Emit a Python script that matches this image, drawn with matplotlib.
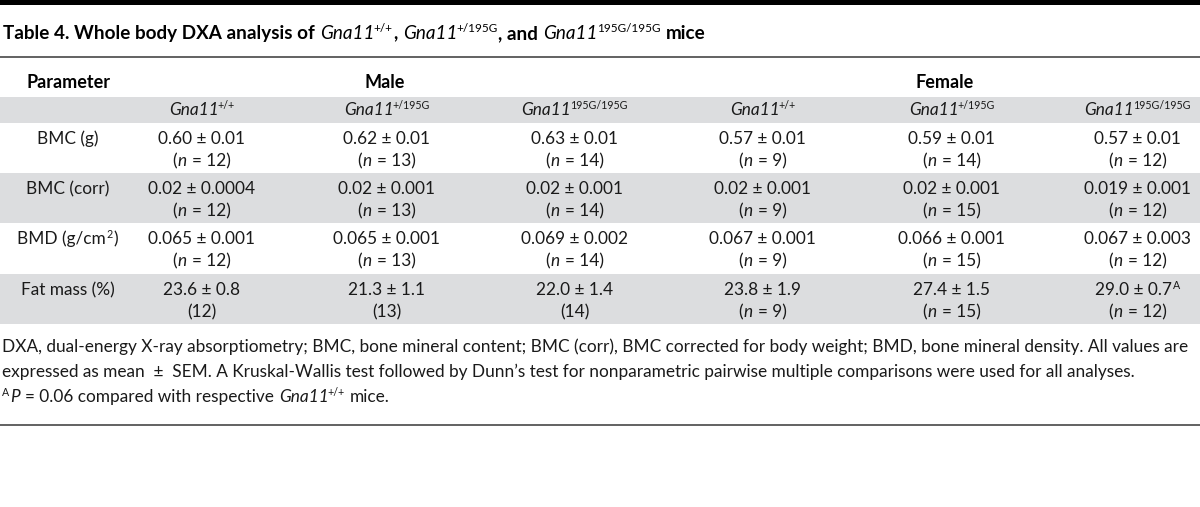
import matplotlib
matplotlib.use("Agg")
import matplotlib.pyplot as plt
from matplotlib.patches import Rectangle

plt.rcParams['font.family'] = ['Lato', 'DejaVu Sans']

# data
params = [[("BMC (g)", "n")],
          [("BMC (corr)", "n")],
          [("BMD (g/cm", "n"), ("2", "sup"), (")", "n")],
          [("Fat mass (%)", "n")]]
genos = ["+/+", "+/195G", "195G/195G", "+/+", "+/195G", "195G/195G"]
sexes = ["Male", "Female"]
means = [["0.60 ± 0.01", "0.62 ± 0.01", "0.63 ± 0.01", "0.57 ± 0.01", "0.59 ± 0.01", "0.57 ± 0.01"],
         ["0.02 ± 0.0004", "0.02 ± 0.001", "0.02 ± 0.001", "0.02 ± 0.001", "0.02 ± 0.001", "0.019 ± 0.001"],
         ["0.065 ± 0.001", "0.065 ± 0.001", "0.069 ± 0.002", "0.067 ± 0.001", "0.066 ± 0.001", "0.067 ± 0.003"],
         ["23.6 ± 0.8", "21.3 ± 1.1", "22.0 ± 1.4", "23.8 ± 1.9", "27.4 ± 1.5", "29.0 ± 0.7"]]
marks = [["", "", "", "", "", ""],
         ["", "", "", "", "", ""],
         ["", "", "", "", "", ""],
         ["", "", "", "", "", "A"]]
ns = [[12, 13, 14, 9, 14, 12],
      [12, 13, 14, 9, 15, 12],
      [12, 13, 14, 9, 15, 12],
      [12, 13, 14, 9, 15, 12]]
show_n = [[True] * 6, [True] * 6, [True] * 6, [False, False, False, True, True, True]]

title = [("Table 4. Whole body DXA analysis of ", "b"), ("Gna11", "i"), ("+/+", "sup"),
         (", ", "b"), ("Gna11", "i"), ("+/195G", "sup"), (", and ", "b"),
         ("Gna11", "i"), ("195G/195G", "sup"), (" mice", "b")]
notes = [[("DXA, dual-energy X-ray absorptiometry; BMC, bone mineral content; BMC (corr), BMC corrected for body weight; BMD, bone mineral density. All values are", "n")],
         [("expressed as mean  ±  SEM. A Kruskal-Wallis test followed by Dunn\u2019s test for nonparametric pairwise multiple comparisons were used for all analyses.", "n")],
         [("A", "sup"), ("P", "i"), (" = 0.06 compared with respective ", "n"), ("Gna11", "i"), ("+/+", "sup"), (" mice.", "n")]]

fig = plt.figure(figsize=(12, 5.07), dpi=100)
ax = fig.add_axes([0, 0, 1, 1])
ax.set_xlim(0, 1200)
ax.set_ylim(507, 0)
ax.axis("off")
renderer = fig.canvas.get_renderer()


def width(t):
    return t.get_window_extent(renderer).width


def runs(x, y, parts, ha="left", size=12.4, color="#1a1a1a"):
    # y is baseline in pixels (downwards)
    probe = ax.text(0, 0, "n n", fontsize=size)
    probe2 = ax.text(0, 0, "nn", fontsize=size)
    sp = width(probe) - width(probe2)
    probe.remove()
    probe2.remove()
    arts = []
    cur = x
    for k, (text, kind) in enumerate(parts):
        fs = size * 0.62 if kind == "sup" else size
        dy = -size * 0.5 if kind == "sup" else 0
        lead = len(text) - len(text.lstrip(" "))
        trail = len(text) - len(text.rstrip(" "))
        cur += lead * sp
        t = ax.text(cur, y + dy, text.strip(" "), fontsize=fs, va="baseline", ha="left",
                    style="italic" if kind == "i" else "normal",
                    weight="bold" if kind == "b" else "normal", color=color)
        nxt = parts[k + 1][1] if k + 1 < len(parts) else ""
        gap = -1 if (kind == "i" and nxt == "sup") else (1.5 if kind == "i" else 0.5)
        cur += width(t) + trail * sp + gap
        arts.append(t)
    if ha == "center":
        shift = (cur - x) / 2
        for t in arts:
            tx, ty = t.get_position()
            t.set_position((tx - shift, ty))
    return arts


# layout
col_x = [202, 387, 575, 763, 952, 1138]
sex_x = [385, 945]
label_x = 68
row_top = [123, 173, 223, 274]
row_h = 50
gray = "#dcdddf"

ax.add_patch(Rectangle((0, 0), 1200, 4.5, color="black", lw=0))
runs(3, 39, title, size=13.6, color="black")
ax.plot([0, 1200], [57, 57], color="#555555", lw=1.3)

runs(27, 88, [("Parameter", "b")], size=13, color="black")
for sx, s in zip(sex_x, sexes):
    runs(sx, 88, [(s, "b")], ha="center", size=13, color="black")

ax.add_patch(Rectangle((0, 97), 1200, 26, color=gray, lw=0))
for cx, g in zip(col_x, genos):
    runs(cx, 115, [("Gna11", "i"), (g, "sup")], ha="center", size=12.4)

for i, top in enumerate(row_top):
    if i % 2 == 1:
        ax.add_patch(Rectangle((0, top), 1200, row_h, color=gray, lw=0))
    runs(label_x, top + 21, params[i], ha="center")
    for j, cx in enumerate(col_x):
        parts = [(means[i][j], "n")]
        if marks[i][j]:
            parts.append((marks[i][j], "sup"))
        runs(cx, top + 21, parts, ha="center")
        if show_n[i][j]:
            runs(cx, top + 43, [("(", "n"), ("n", "i"), (" = %d)" % ns[i][j], "n")], ha="center")
        else:
            runs(cx, top + 43, [("(%d)" % ns[i][j], "n")], ha="center")

for k, line in enumerate(notes):
    runs(2, 352 + 25 * k, line)
ax.plot([0, 1200], [425, 425], color="#555555", lw=1.3)

fig.savefig("out.png", dpi=100)
